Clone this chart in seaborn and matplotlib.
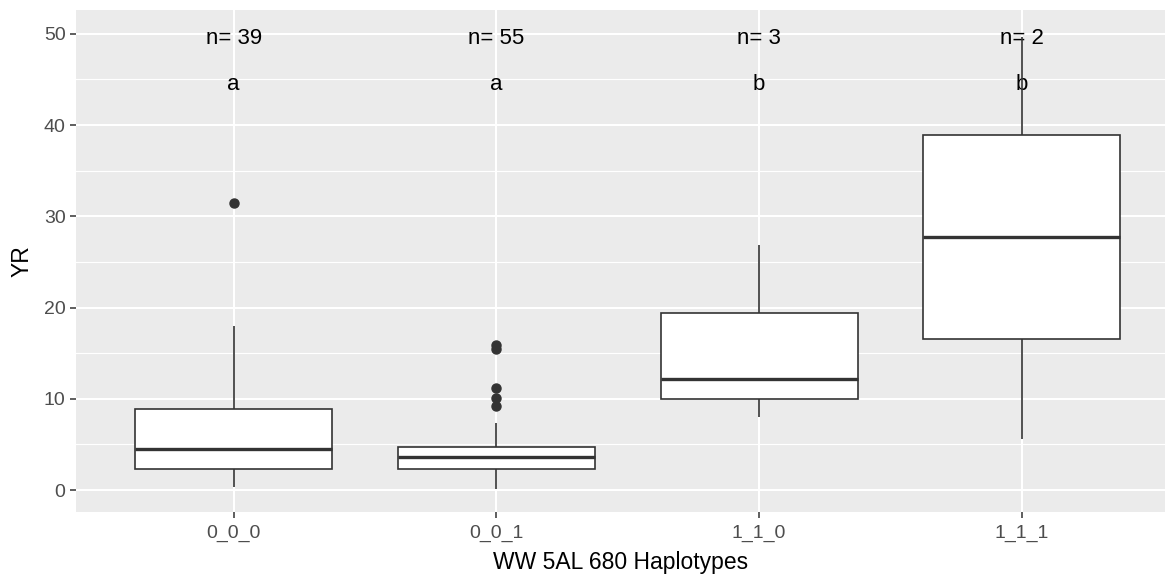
import numpy as np
import pandas as pd
import seaborn as sns
import matplotlib.pyplot as plt
from matplotlib.ticker import MultipleLocator

# values (quartiles, whiskers, outliers)
haplotypes = ["0_0_0", "0_0_1", "1_1_0", "1_1_1"]
yr_000 = [0.3, 1.4, 2.27, 3.5, 4.5, 6.5, 8.84, 17.96, 31.5]
yr_001 = [0.08, 0.6, 1.1, 1.5, 1.9, 2.1, 2.27, 2.6, 2.9, 3.1, 3.3, 3.5, 3.65,
          3.8, 4.0, 4.2, 4.4, 4.6, 4.74, 7.3, 9.2, 10.1, 11.2, 15.5, 15.9]
yr_110 = [7.96, 9.93, 12.2, 19.4, 26.8]
yr_111 = [5.6, 16.6, 27.7, 38.9, 49.6]
n_labels = ["n= 39", "n= 55", "n= 3", "n= 2"]
letters = ["a", "a", "b", "b"]

df = pd.concat([
    pd.DataFrame({"hap": h, "YR": v})
    for h, v in zip(haplotypes, [yr_000, yr_001, yr_110, yr_111])
], ignore_index=True)

plt.rcParams['font.family'] = ['Liberation Sans', 'DejaVu Sans']

fig = plt.figure(figsize=(11.68, 5.77), dpi=100)
ax = fig.add_axes([76 / 1168, 1 - 512 / 577, (1165 - 76) / 1168, (512 - 10) / 577])
ax.set_facecolor("#EBEBEB")

line_col = "#333333"
sns.boxplot(data=df, x="hap", y="YR", order=haplotypes, ax=ax, width=0.75,
            color="white", linecolor=line_col, linewidth=1.2, showcaps=False,
            medianprops=dict(color=line_col, linewidth=2.4),
            flierprops=dict(marker="o", markersize=6.5, markerfacecolor=line_col,
                            markeredgecolor=line_col))

for i, (n, l) in enumerate(zip(n_labels, letters)):
    ax.text(i, 49.45, n, ha="center", va="center", fontsize=16, color="black", zorder=1)
    ax.text(i, 44.45, l, ha="center", va="center", fontsize=16, color="black", zorder=1)

ax.set_xlim(-0.6, 3.545)
ax.set_ylim(-2.4, 52.6)
ax.yaxis.set_major_locator(MultipleLocator(10))
ax.yaxis.set_minor_locator(MultipleLocator(5))
ax.set_axisbelow(True)
ax.grid(which="major", color="white", linewidth=1.5)
ax.grid(which="minor", axis="y", color="white", linewidth=0.8)
for s in ax.spines.values():
    s.set_visible(False)

ax.tick_params(axis="both", which="major", colors=line_col, length=4.5, width=1.1,
               labelcolor="#4D4D4D", labelsize=14)
ax.tick_params(axis="y", which="minor", length=0)
ax.tick_params(axis="y", pad=3)
ax.tick_params(axis="x", pad=4.5)

ax.set_xlabel("WW 5AL 680 Haplotypes", fontsize=16.5, color="black", labelpad=7)
ax.set_ylabel("YR", fontsize=16.5, color="black", labelpad=7)

fig.savefig("out.png", dpi=100, facecolor="white")
